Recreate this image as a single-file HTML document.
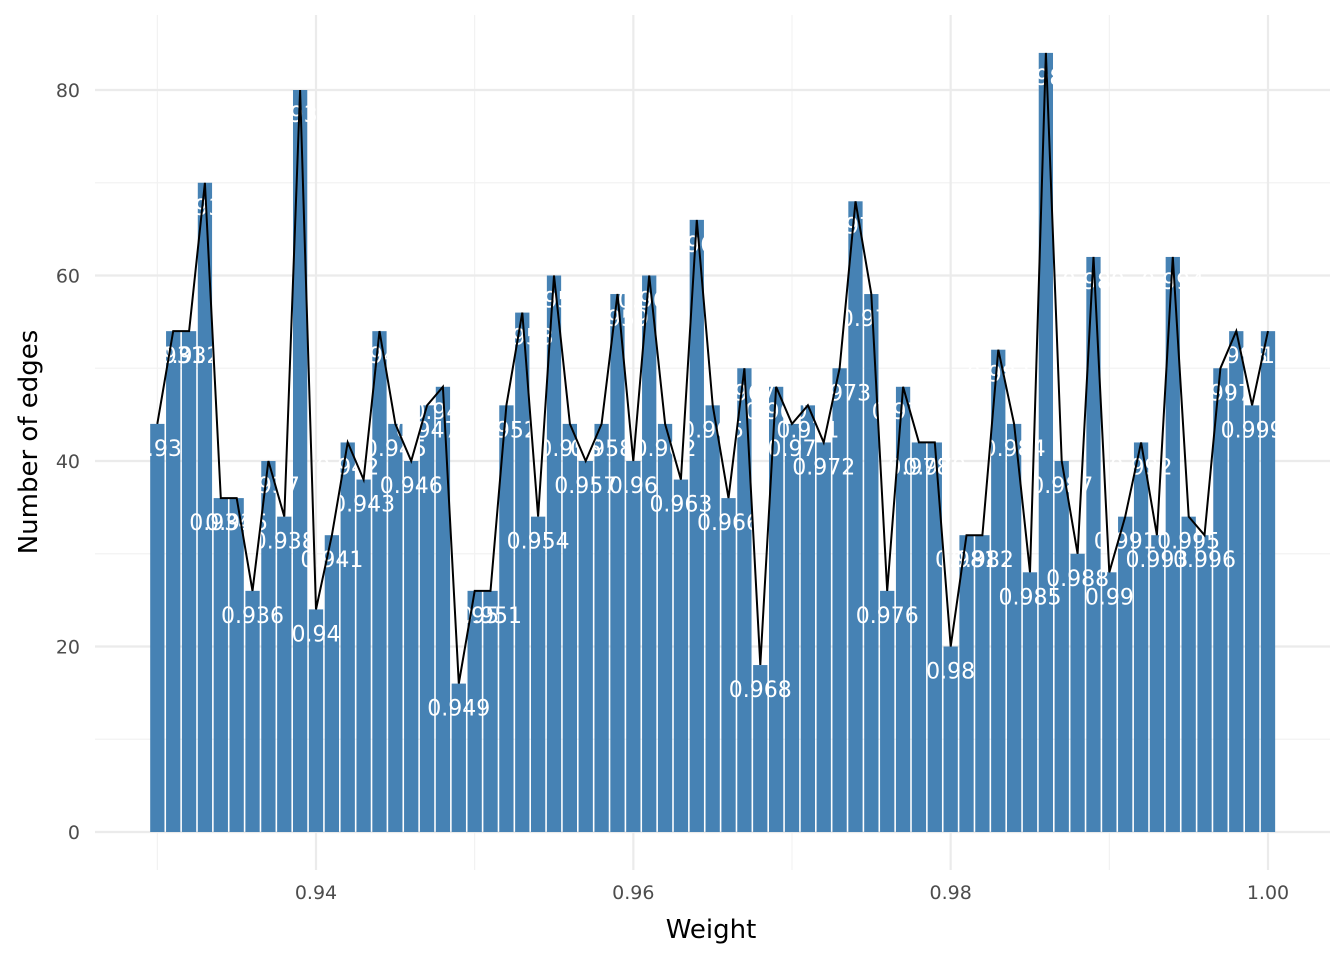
<!DOCTYPE html>
<html><head><meta charset="utf-8"><style>
body{margin:0;background:#fff;}
svg text{font-family:"DejaVu Sans","Liberation Sans",sans-serif;}
</style></head><body>
<svg id="chart" width="1344" height="960" xmlns="http://www.w3.org/2000/svg">
<g id="grid"></g>
<g id="bars"></g>
<g id="labels"></g>
<path id="line" fill="none" stroke="#000" stroke-width="2"/>
<g id="axes"></g>
<text x="711" y="938" text-anchor="middle" font-size="26" fill="#000">Weight</text>
<text transform="translate(37,442) rotate(-90)" text-anchor="middle" font-size="26" fill="#000">Number of edges</text>
</svg>
<script>
const weights = [];
for (let i = 0; i <= 70; i++) weights.push(+(0.93 + i*0.001).toFixed(3));
const counts = [44,54,54,70,36,36,26,40,34,80,24,32,42,38,54,44,40,46,48,16,26,26,46,56,34,60,44,40,44,58,40,60,44,38,66,46,36,50,18,48,44,46,42,50,68,58,26,48,42,42,20,32,32,52,44,28,84,40,30,62,28,34,42,32,62,34,32,50,54,46,54];
const yTicks = [0,20,40,60,80];
const yMinor = [10,30,50,70];
const xTicks = [0.94,0.96,0.98,1.00];
const xTickLabels = ["0.94","0.96","0.98","1.00"];
const xMinor = [0.93,0.95,0.97,0.99];

const NS = "http://www.w3.org/2000/svg";
const xs = v => 316 + (v - 0.94) * 15866.7;
const ys = v => 832 - v * 9.275;
const bw = 0.0009 * 15866.7;
function mk(tag, attrs, parent){const e=document.createElementNS(NS,tag);for(const k in attrs)e.setAttribute(k,attrs[k]);parent.appendChild(e);return e;}
const grid=document.getElementById('grid'), axes=document.getElementById('axes');
yMinor.forEach(v=>{const l=mk('line',{x1:95,x2:1330,y1:ys(v),y2:ys(v),stroke:'#f2f2f2','stroke-width':1.2},grid);
});
xMinor.forEach(v=>{const l=mk('line',{x1:xs(v),x2:xs(v),y1:15,y2:870,stroke:'#f2f2f2','stroke-width':1.2},grid);
});
yTicks.forEach(v=>{const l=mk('line',{x1:95,x2:1330,y1:ys(v),y2:ys(v),stroke:'#ebebeb','stroke-width':2.2},grid);

const t=mk('text',{x:80,y:ys(v)+7,'text-anchor':'end','font-size':19,fill:'#4d4d4d'},axes);t.textContent=v;
});
xTicks.forEach((v,i)=>{const l=mk('line',{x1:xs(v),x2:xs(v),y1:15,y2:870,stroke:'#ebebeb','stroke-width':2.2},grid);

const t=mk('text',{x:xs(v),y:899,'text-anchor':'middle','font-size':19,fill:'#4d4d4d'},axes);t.textContent=xTickLabels[i];
});
const bars=document.getElementById('bars'), labels=document.getElementById('labels');
let d='';
weights.forEach((w,i)=>{const c=counts[i];
const r=mk('rect',{x:xs(w)-bw/2,y:ys(c),width:bw,height:ys(0)-ys(c),fill:'#4682b4'},bars);

d+=(i?'L':'M')+xs(w).toFixed(1)+','+ys(c).toFixed(1);});
weights.forEach((w,i)=>{const c=counts[i];
const t=mk('text',{x:xs(w),y:ys(c)+32,'text-anchor':'middle','font-size':22,fill:'#fff'},labels);
t.textContent=String(w);
});
document.getElementById('line').setAttribute('d',d);
</script>
</body></html>
